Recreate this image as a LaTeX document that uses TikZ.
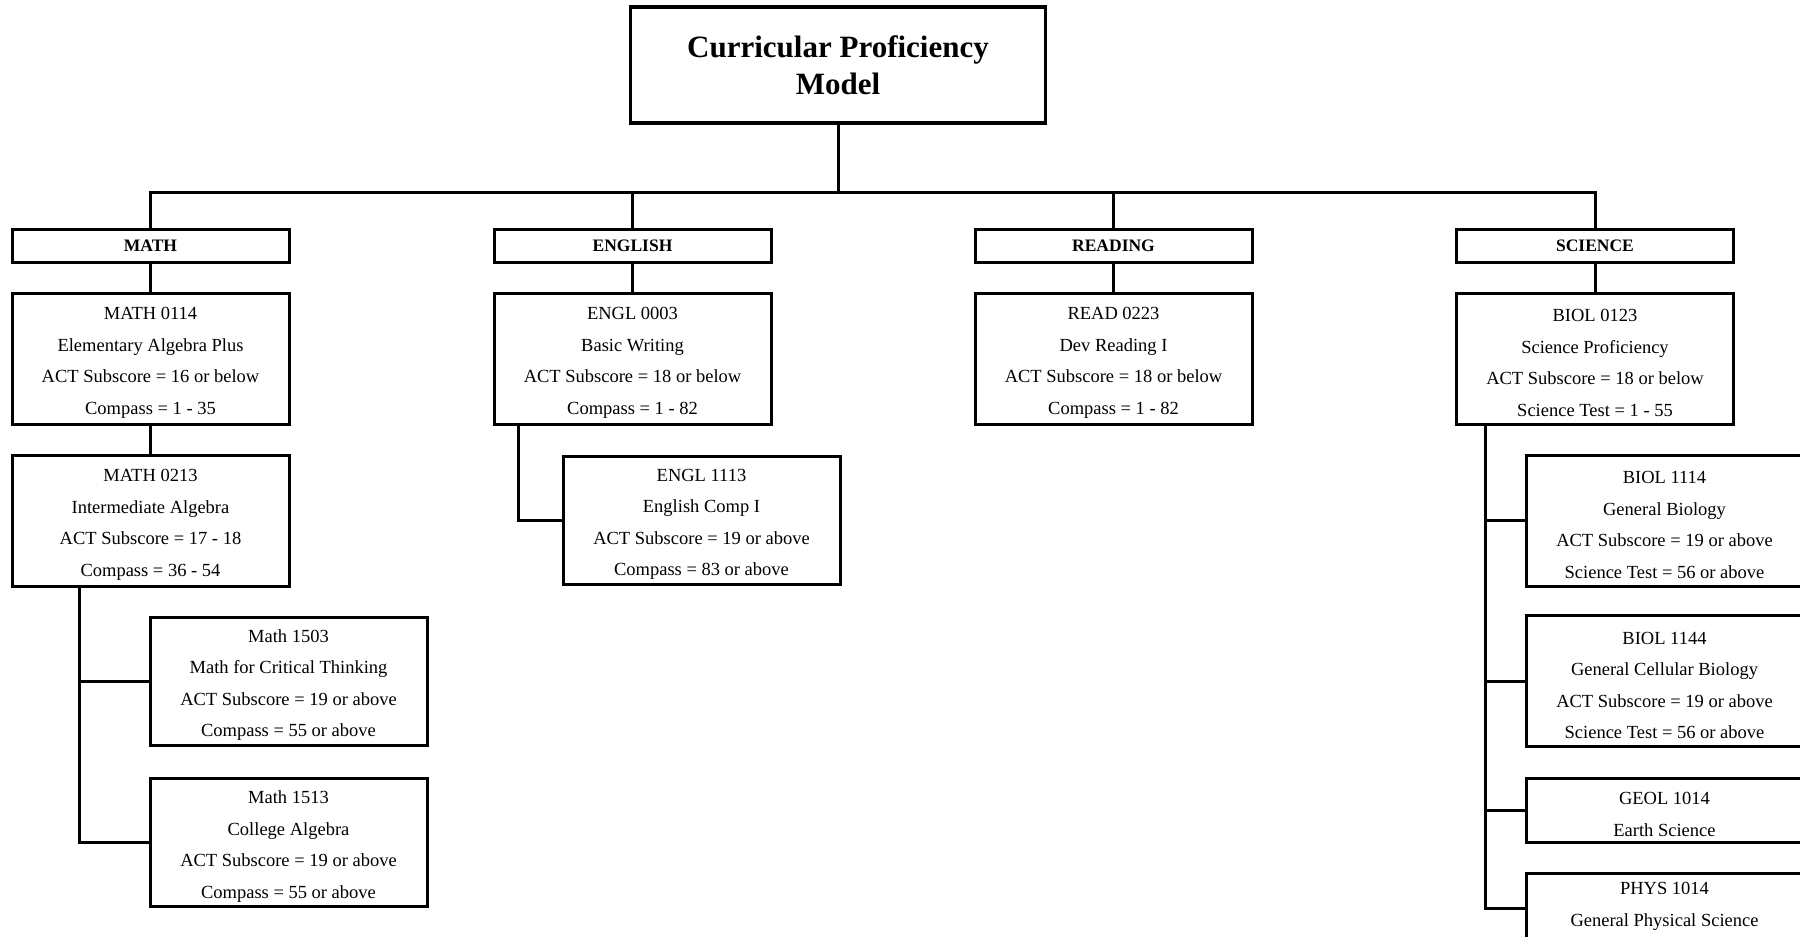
\documentclass[tikz,border=0pt]{standalone}
\usepackage{fontspec}
\setmainfont{Liberation Serif}
\usepackage{tikz}
\usetikzlibrary{positioning,calc}
\newcommand{\topgap}{\rule{0pt}{21pt}}

\begin{document}
\begin{tikzpicture}[
    x=1pt, y=-1pt,
    line width=3pt,
    titlebox/.style={rectangle, draw, line width=3.5pt, minimum width=415pt, minimum height=116pt,
        align=center, inner sep=0pt, font=\bfseries\fontsize{31}{37}\selectfont},
    catbox/.style={rectangle, draw, minimum width=277pt, minimum height=33pt,
        inner sep=0pt, font=\bfseries\fontsize{17.5}{20}\selectfont},
    course/.style={rectangle, draw, minimum width=277pt, minimum height=131pt,
        align=center, inner sep=0pt, font=\fontsize{18.5}{31.5}\selectfont},
    short/.style={course, minimum height=64pt},
    link/.style={line width=3pt}
]
\clip (0,0) rectangle (1800,937);
% Title
\node[titlebox] (title) at (838,65) {Curricular Proficiency\\ Model};
\coordinate (bar) at (838,192);
% Subjects
\node[catbox] (mathcat) at (150.5,246) {MATH};
\node[catbox] (englcat) at (632.5,246) {ENGLISH};
\node[catbox] (readcat) at (1113.5,246) {READING};
\node[catbox] (scicat)  at (1595,246) {SCIENCE};
% First courses
\node[course] (m0114) at (150.5,358.5)
     {\topgap MATH 0114\\ Elementary Algebra Plus\\ ACT Subscore = 16 or below\\ Compass = 1 - 35};
\node[course] (e0003) at (632.5,358.5)
     {\topgap ENGL 0003\\ Basic Writing\\ ACT Subscore = 18 or below\\ Compass = 1 - 82};
\node[course] (r0223) at (1113.5,358.5)
     {\topgap READ 0223\\ Dev Reading I\\ ACT Subscore = 18 or below\\ Compass = 1 - 82};
\node[course] (b0123) at (1595,358.5)
     {\topgap BIOL 0123\\ Science Proficiency\\ ACT Subscore = 18 or below\\ Science Test = 1 - 55};
% Math chain
\node[course] (m0213) at (150.5,520.5)
     {\topgap MATH 0213\\ Intermediate Algebra\\ ACT Subscore = 17 - 18\\ Compass = 36 - 54};
\node[course, minimum height=128pt] (m1503) at (288.5,681)
     {\topgap Math 1503\\ Math for Critical Thinking\\ ACT Subscore = 19 or above\\ Compass = 55 or above};
\node[course, minimum height=128pt] (m1513) at (288.5,842.5)
     {\topgap Math 1513\\ College Algebra\\ ACT Subscore = 19 or above\\ Compass = 55 or above};
% English
\node[course, minimum height=128pt] (e1113) at (701.5,520)
     {\topgap ENGL 1113\\ English Comp I\\ ACT Subscore = 19 or above\\ Compass = 83 or above};
% Science
\node[course] (b1114) at (1664.5,520.5)
     {\topgap BIOL 1114\\ General Biology\\ ACT Subscore = 19 or above\\ Science Test = 56 or above};
\node[course] (b1144) at (1664.5,681)
     {\topgap BIOL 1144\\ General Cellular Biology\\ ACT Subscore = 19 or above\\ Science Test = 56 or above};
\node[short] (g1014) at (1664.5,810)
     {\topgap GEOL 1014\\ Earth Science};
\node[course, minimum height=113pt] (p1014) at (1664.5,931.5)
     {\topgap PHYS 1014\\ General Physical Science\\ ACT Subscore = 19 or above\\ Science Test = 56 or above};
\coordinate (physlink) at (1526,908);
% Edges
\draw[link] (title.south) -- (bar);
\draw[link] (mathcat.north) |- (bar);
\draw[link] (englcat.north) |- (bar);
\draw[link] (readcat.north) |- (bar);
\draw[link] (scicat.north) |- (bar);
\draw[link] (mathcat) -- (m0114);
\draw[link] (englcat) -- (e0003);
\draw[link] (readcat) -- (r0223);
\draw[link] (scicat) -- (b0123);
\draw[link] (m0114) -- (m0213);
\draw[link] ([xshift=69pt]m0213.south west) |- (m1503.west);
\draw[link] ([xshift=69pt]m0213.south west) |- (m1513.west);
\draw[link] ([xshift=26pt]e0003.south west) |- (e1113.west);
\draw[link] ([xshift=30pt]b0123.south west) |- (b1114.west);
\draw[link] ([xshift=30pt]b0123.south west) |- (b1144.west);
\draw[link] ([xshift=30pt]b0123.south west) |- (g1014.west);
\draw[link] ([xshift=30pt]b0123.south west) |- (physlink);
\end{tikzpicture}
\end{document}
